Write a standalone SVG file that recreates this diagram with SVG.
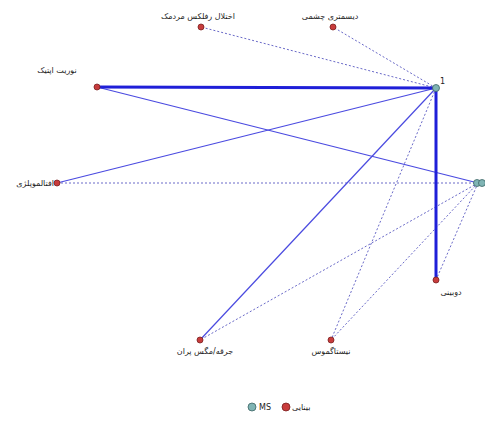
<svg xmlns="http://www.w3.org/2000/svg" width="485" height="426" viewBox="0 0 485 426">
<style>
.bg{fill:#ffffff}
.thick{stroke:#1f1fd8;stroke-width:3;fill:none}
.thin{stroke:#4a4ae0;stroke-width:1.2;fill:none}
.dot{stroke:#6a6ac8;stroke-width:1;stroke-dasharray:2 2;fill:none}
.red{fill:#c83c3c;stroke:#7a2020;stroke-width:0.8}
.teal{fill:#7fb4b4;stroke:#3c6464;stroke-width:0.8}
text{font-family:"DejaVu Sans","Noto Sans",sans-serif;font-size:8px;fill:#222}
</style>
<rect class="bg" x="0" y="0" width="485" height="426"/>
<g id="connectors">
<line class="dot" x1="436" y1="88" x2="201" y2="27"/>
<line class="dot" x1="436" y1="88" x2="333" y2="27"/>
<line class="dot" x1="436" y1="88" x2="331" y2="340"/>
<line class="dot" x1="57" y1="183" x2="478" y2="183"/>
<line class="dot" x1="478" y1="183" x2="200" y2="340"/>
<line class="dot" x1="478" y1="183" x2="331" y2="340"/>
<line class="dot" x1="478" y1="183" x2="436" y2="280"/>
<line class="thin" x1="97" y1="87" x2="478" y2="183"/>
<line class="thin" x1="57" y1="183" x2="436" y2="88"/>
<line class="thin" x1="200" y1="340" x2="436" y2="88"/>
<line class="thick" x1="97" y1="87" x2="436" y2="88"/>
<line class="thick" x1="436" y1="88" x2="436" y2="280"/>
</g>
<g id="n1"><circle class="teal" cx="436" cy="88" r="3.5"/><text x="440" y="84">1</text></g>
<g id="nMS2"><circle class="teal" cx="477" cy="183" r="3.5"/><circle class="teal" cx="482" cy="183" r="3.5"/></g>
<g id="n_pupil"><circle class="red" cx="201" cy="27" r="3"/><text x="198" y="19" text-anchor="middle">اختلال رفلکس مردمک</text></g>
<g id="n_dysmetria"><circle class="red" cx="333" cy="27" r="3"/><text x="330" y="19" text-anchor="middle">دیسمتری چشمی</text></g>
<g id="n_optic"><circle class="red" cx="97" cy="87" r="3"/><text x="57" y="73" text-anchor="middle">نوریت اپتیک</text></g>
<g id="n_ophthalmo"><circle class="red" cx="57" cy="183" r="3"/><text x="54" y="186" text-anchor="end">افتالموپلژی</text></g>
<g id="n_diplopia"><circle class="red" cx="436" cy="280" r="3"/><text x="451" y="295" text-anchor="middle">دوبینی</text></g>
<g id="n_floaters"><circle class="red" cx="200" cy="340" r="3"/><text x="205" y="354" text-anchor="middle">جرقه/مگس پران</text></g>
<g id="n_nystagmus"><circle class="red" cx="331" cy="340" r="3"/><text x="331" y="354" text-anchor="middle">نیستاگموس</text></g>
<g id="legend">
<circle class="teal" cx="252" cy="407" r="4"/><text x="259" y="410">MS</text>
<circle class="red" cx="286" cy="407" r="4"/><text x="292" y="410">بینایی</text>
</g>
</svg>
